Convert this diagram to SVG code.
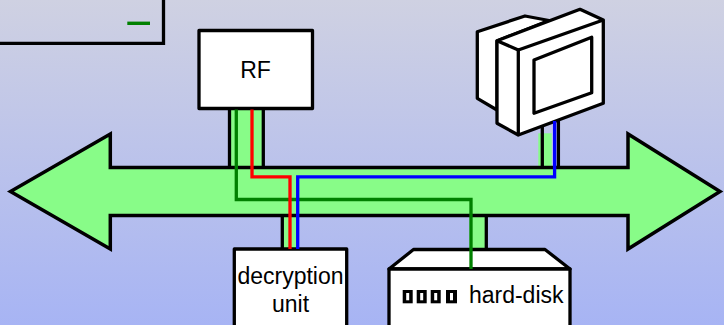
<svg xmlns="http://www.w3.org/2000/svg" width="724" height="325" viewBox="0 0 724 325">
  <defs>
    <linearGradient id="bg" x1="0" y1="0" x2="0" y2="1">
      <stop offset="0" stop-color="#cfd1e2"/>
      <stop offset="1" stop-color="#a7b4f4"/>
    </linearGradient>
    <style>
      .edge { fill: none; stroke: #000; stroke-width: 3.3; }
      .box { fill: #fff; stroke: #000; stroke-width: 3.3; stroke-linejoin: round; }
      .tapfill { fill: #88fc88; stroke: none; }
      .wire { fill: none; stroke-width: 3.3; stroke-linejoin: miter; }
      .label { font-family: "Liberation Sans", Arial, sans-serif; font-size: 23px; fill: #000; text-anchor: middle; }
    </style>
  </defs>

  <!-- background -->
  <rect x="0" y="0" width="724" height="325" fill="url(#bg)"/>

  <!-- corner panel -->
  <g id="panel">
    <path class="edge" d="M163.5,0 V43.3 H0"/>
    <line x1="127.3" y1="23.3" x2="150" y2="23.3" stroke="#008000" stroke-width="3.4"/>
  </g>

  <!-- bus with its taps -->
  <g id="bus">
    <!-- RF tap -->
    <rect class="tapfill" x="231" y="108" width="31" height="60"/>
    <line class="edge" x1="229.5" y1="108" x2="229.5" y2="168"/>
    <line class="edge" x1="263.3" y1="108" x2="263.3" y2="168"/>
    <!-- monitor tap -->
    <rect class="tapfill" x="538.3" y="133.3" width="13.4" height="34"/>
    <line class="edge" x1="542.3" y1="118" x2="542.3" y2="168"/>
    <line class="edge" x1="558.4" y1="118" x2="558.4" y2="168"/>
    <!-- decryption tap -->
    <rect class="tapfill" x="284" y="214" width="13" height="36"/>
    <line class="edge" x1="282.3" y1="214" x2="282.3" y2="250"/>
    <!-- hard-disk tap -->
    <rect class="tapfill" x="469.5" y="214" width="15.5" height="36"/>
    <line class="edge" x1="486.3" y1="214" x2="486.3" y2="250"/>
    <!-- double-headed bus arrow -->
    <path d="M10.5,191.5 L110.3,134 V167.5 H628 V134 L720,191.5 L628,249 V215.5 H110.3 V249 Z"
          fill="#88fc88" stroke="#000" stroke-width="3.5" stroke-linejoin="miter"/>
  </g>

  <!-- RF node -->
  <g id="rf">
    <rect class="box" x="199" y="30.5" width="113.5" height="78" stroke-linejoin="miter"/>
    <text class="label" x="255.5" y="78">RF</text>
  </g>

  <!-- monitor node -->
  <g id="monitor">
    <polygon class="box" points="477.3,31.7 525,16 549,20.5 497,41 497,110 477.3,98.3"/>
    <polygon class="box" points="497,40.7 580,9.3 603.3,20 603.3,103.3 518.3,135 497,123.3"/>
    <polyline class="edge" stroke-linejoin="round" points="497,40.7 518.3,50 603.3,20"/>
    <line class="edge" x1="518.3" y1="50" x2="518.3" y2="135"/>
    <polygon class="box" points="534,60 591.7,37.3 591.7,92.7 534,113.3"/>
  </g>

  <!-- decryption unit node -->
  <g id="decryption">
    <rect class="box" x="234.3" y="249" width="112.4" height="90" stroke-linejoin="miter"/>
    <text class="label" x="290.5" y="284">decryption</text>
    <text class="label" x="290.5" y="311.7">unit</text>
  </g>

  <!-- hard-disk node -->
  <g id="harddisk">
    <polygon class="box" points="389,269 413.5,249.5 545,249.5 570,269"/>
    <rect class="box" x="389" y="269" width="181" height="70" stroke-linejoin="miter"/>
    <g fill="#000">
      <rect x="402.7" y="290" width="10" height="13.3"/>
      <rect x="416.7" y="290" width="10" height="13.3"/>
      <rect x="430.7" y="290" width="10" height="13.3"/>
      <rect x="446" y="290" width="11" height="13.3"/>
    </g>
    <g fill="#fff">
      <rect x="406.2" y="293" width="3" height="7.3"/>
      <rect x="420.2" y="293" width="3" height="7.3"/>
      <rect x="434.2" y="293" width="3" height="7.3"/>
      <rect x="450" y="293" width="3" height="7.3"/>
    </g>
    <text class="label" x="516.2" y="302.7">hard-disk</text>
  </g>

  <!-- signal wires -->
  <g id="connectors">
    <polyline class="wire" stroke="#008000" points="236.3,109.5 236.3,199.5 471,199.5 471,269"/>
    <polyline class="wire" stroke="#ff0000" points="252,109.5 252,176.8 290,176.8 290,249"/>
    <polyline class="wire" stroke="#0000ff" points="554.6,121 554.6,176.8 297.7,176.8 297.7,249"/>
  </g>
</svg>
